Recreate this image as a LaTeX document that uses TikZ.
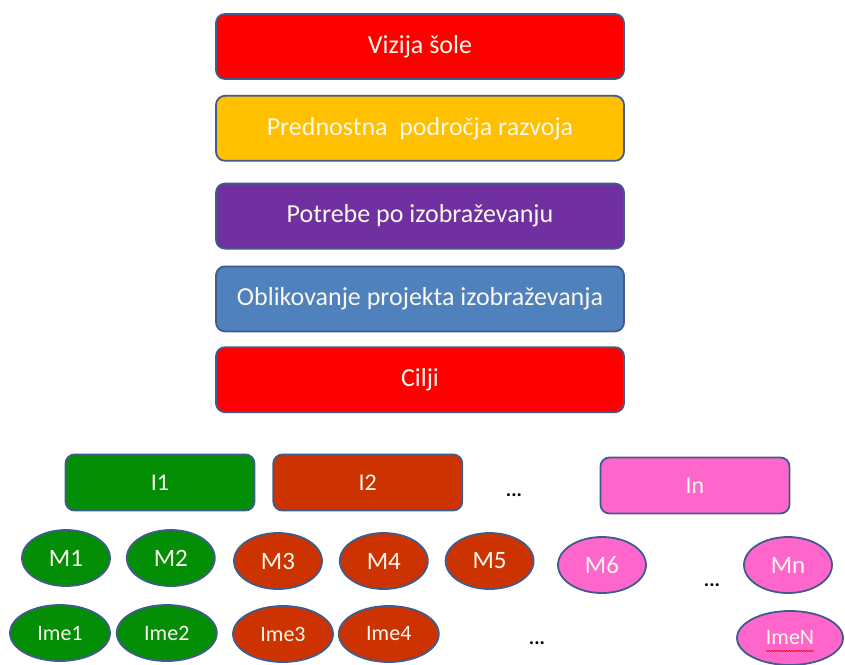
\documentclass[tikz,border=0pt]{standalone}
\usepackage{fontspec}
\setmainfont{Carlito}
\usepackage{tikz}
\usetikzlibrary{shapes}
\usetikzlibrary{positioning}
\usetikzlibrary{decorations.pathmorphing}

\definecolor{edgeblue}{HTML}{3F5C8C}
\definecolor{boxtext}{HTML}{FAF8EC}
\definecolor{vizred}{HTML}{FF0000}
\definecolor{gold}{HTML}{FFC000}
\definecolor{violet}{HTML}{7030A0}
\definecolor{steel}{HTML}{4F81BD}
\definecolor{igreen}{HTML}{038E06}
\definecolor{ibrown}{HTML}{CC3300}
\definecolor{ipink}{HTML}{FF66CC}

\begin{document}
\begin{tikzpicture}
          [x=1pt, y=-1pt,
           box/.style={draw=edgeblue, line width=1.8pt, text=boxtext, inner sep=0pt},
           bar/.style={box, rectangle, rounded corners=9pt, minimum width=408pt,
                       minimum height=65pt, font=\fontsize{26}{30}\selectfont},
           ibox/.style={box, rectangle, rounded corners=9pt, minimum width=189pt,
                        minimum height=56pt, font=\fontsize{24}{28}\selectfont},
           mball/.style={box, ellipse, minimum width=88pt, minimum height=56pt,
                         font=\fontsize{25}{28}\selectfont},
           imeball/.style={box, ellipse, minimum width=100pt, minimum height=56pt,
                           font=\fontsize{22}{26}\selectfont},
           dots/.style={font=\fontsize{20}{22}\selectfont\bfseries, inner sep=0pt}]
          \useasboundingbox (0,0) rectangle (845,664);

          % the column
          \node (vizija) [bar, fill=vizred] at (420,46.5) {Vizija šole};
          \node (prednost) [bar, fill=gold, below = 15pt of vizija] {Prednostna\ \ področja razvoja};
          \node (potrebe) [bar, fill=violet, below = 21pt of prednost] {Potrebe po izobraževanju};
          \node (oblik) [bar, fill=steel, below = 16pt of potrebe] {Oblikovanje projekta izobraževanja};
          \node (cilji) [bar, fill=vizred, below = 14pt of oblik] {Cilji};

          % I row
          \node (i1) [ibox, fill=igreen] at (160,482.5) {I1};
          \node (i2) [ibox, fill=ibrown, right = 17pt of i1] {I2};
          \node (idots) [dots] at (514,495) {...};
          \node (in) [ibox, fill=ipink] at (695,485.5) {In};

          % M row
          \node (m1) [mball, fill=igreen] at (66,558) {M1};
          \node (m2) [mball, fill=igreen, right = 15pt of m1] {M2};
          \node (m3) [mball, fill=ibrown] at (278,561) {M3};
          \node (m4) [mball, fill=ibrown, right = 16pt of m3] {M4};
          \node (m5) [mball, fill=ibrown, right = 16pt of m4] {M5};
          \node (m6) [mball, fill=ipink] at (602,565) {M6};
          \node (mdots) [dots] at (712,585) {...};
          \node (mn) [mball, fill=ipink] at (788,565) {Mn};

          % Ime row
          \node (ime1) [imeball, fill=igreen] at (60,633) {Ime1};
          \node (ime2) [imeball, fill=igreen, right = 5pt of ime1] {Ime2};
          \node (ime3) [imeball, fill=ibrown] at (283,634) {Ime3};
          \node (ime4) [imeball, fill=ibrown, right = 4pt of ime3] {Ime4};
          \node (imedots) [dots] at (537,643) {...};
          \node (imen) [imeball, fill=ipink, minimum width=106pt, minimum height=54pt] at (790,638) {ImeN};

          \draw[red, line width=0.6pt, decorate, decoration={snake, amplitude=0.7pt, segment length=2.5pt}]
            ([xshift=-24pt, yshift=-13pt]imen.center) -- ([xshift=24pt, yshift=-13pt]imen.center);

        \end{tikzpicture}
\end{document}
